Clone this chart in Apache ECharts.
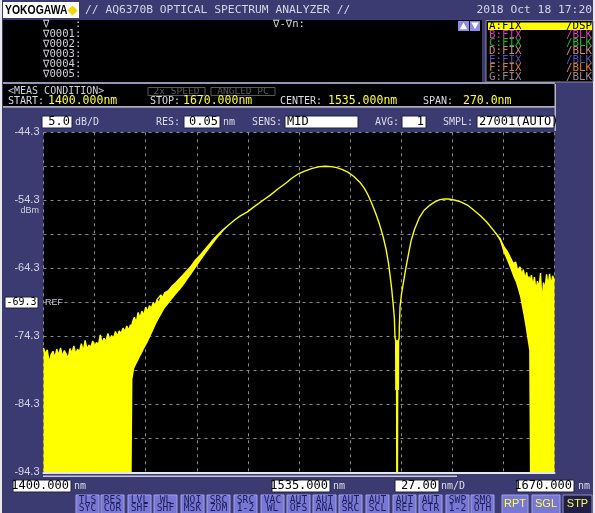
<!DOCTYPE html>
<html>
<head>
<meta charset="utf-8">
<script src="https://cdn.jsdelivr.net/npm/echarts@6/dist/echarts.min.js"></script>
<style>
html,body{margin:0;padding:0;background:#3b3b72;}
#c{width:595px;height:513px;}
</style>
</head>
<body>
<div id="c"></div>
<script>
const startNm = 1400.000, stopNm = 1670.000, centerNm = 1535.000, spanNm = 270.0, nmPerDiv = 27.00;
const topDbm = -44.3, dbPerDiv = 5.0, refDbm = -69.3;
const FLOOR = -94.3; // display floor (bottom of screen)
const yTickLabels = [-94.3, -84.3, -74.3, -64.3, -54.3, -44.3];

// left noise floor: trace fills down to the display floor
const noiseLeftNm = [1400,1401,1402,1403,1404,1405,1406,1407,1408,1409,1410,1411,1412,1413,1414,1415,1416,1417,1418,1419,1420,1421,1422,1423,1424,1425,1426,1427,1428,1429,1430,1431,1432,1433,1434,1435,1436,1437,1438,1439,1440,1441,1442,1443,1444,1445,1446,1446.6];
const noiseLeftTop = [-76.0,-76.9,-76.3,-78.2,-77.0,-76.5,-77.5,-76.2,-77.1,-76.0,-77.3,-76.4,-76.9,-77.6,-76.1,-76.8,-75.7,-76.9,-76.2,-76.6,-75.4,-76.5,-74.9,-76.2,-75.6,-75.9,-75.0,-75.8,-75.2,-75.6,-74.1,-75.3,-74.6,-75.1,-73.9,-74.8,-74.2,-74.6,-73.6,-74.3,-73.5,-73.9,-73.1,-73.6,-72.8,-73.4,-72.6,-72.9];

// left noisy band (top / bottom of the band)
const bandLeftNm = [1447,1448,1449,1450,1451,1452,1453,1454,1455,1456,1457,1458,1459,1460,1461,1462,1463,1464,1466,1468,1470,1472,1474,1476,1478,1480,1483,1486,1489,1492,1495];
const bandLeftTop = [-72.2,-71.5,-72.3,-70.8,-71.6,-70.6,-71.2,-70.0,-70.7,-69.8,-70.2,-69.3,-69.8,-68.9,-69.1,-68.2,-68.6,-67.9,-67.6,-66.9,-66.4,-65.8,-65.2,-64.6,-64.0,-63.2,-62.3,-61.3,-60.3,-59.4,-58.6];
const bandLeftBottom = [-80.6,-79.0,-78.4,-77.9,-77.3,-76.8,-76.2,-75.7,-75.2,-74.6,-74.0,-73.4,-72.8,-72.2,-71.7,-71.2,-70.7,-70.2,-69.5,-68.8,-68.1,-67.5,-66.8,-66.0,-65.2,-64.4,-63.2,-62.0,-60.9,-59.8,-58.8];

// clean signal, left lobe
const signalLeftNm = [1498,1501,1504,1507.7,1511,1516,1520,1524,1528,1531,1534.7,1538,1542,1546,1549,1552,1555,1558,1561,1564,1567,1569.5,1571.6,1573.5,1575.5,1577.5,1579.5,1581,1582.2,1583.1,1584.0,1584.8,1585.4,1585.7];
const signalLeftDbm = [-57.9,-57.2,-56.6,-56.0,-55.3,-54.3,-53.5,-52.6,-51.8,-51.1,-50.4,-50.0,-49.6,-49.35,-49.3,-49.35,-49.5,-49.8,-50.2,-50.8,-51.6,-52.5,-53.6,-54.8,-56.2,-57.8,-59.7,-61.5,-63.4,-65.3,-67.4,-69.7,-71.6,-74.3];

// notch
const notchNm = [1585.8,1586.2,1586.3,1587.4,1587.5,1587.9];
const notchTop = [-74.6,-75.0,-75.0,-75.0,-75.0,-74.6];
const notchBottom = [-82.2,-82.2,-94.3,-94.3,-82.2,-82.2];

// clean signal, right lobe
const signalRightNm = [1588.0,1588.4,1589.2,1590.1,1591,1591.9,1593,1594.2,1596,1598.5,1601,1604.2,1607,1609.5,1612,1614,1617,1620.1,1624,1627.1,1631,1634.2,1638];
const signalRightDbm = [-73.0,-69.9,-68.0,-66.5,-65.0,-63.6,-62.0,-60.3,-58.6,-56.9,-55.8,-55.0,-54.5,-54.2,-54.1,-54.1,-54.25,-54.5,-55.0,-55.7,-56.6,-57.5,-58.8];

// right noisy band
const bandRightNm = [1641.2,1643,1645,1647,1648.2,1649.5,1650.5,1651.8,1652.8,1653.5,1654.4,1655.3,1656.0,1656.6];
const bandRightTop = [-59.9,-61.0,-61.8,-62.9,-63.6,-63.4,-64.6,-64.1,-65.3,-64.5,-65.8,-64.9,-66.2,-65.5];
const bandRightBottom = [-60.3,-61.9,-63.2,-64.6,-65.5,-66.3,-67.2,-68.5,-70.0,-71.0,-72.4,-74.0,-75.3,-76.3];

// right noise floor
const noiseRightNm = [1657.0,1657.8,1658.6,1659.4,1660.2,1661.0,1661.8,1662.6,1663.4,1664.2,1665.0,1665.8,1666.6,1667.4,1668.2,1669.0,1670.0];
const noiseRightTop = [-66.5,-65.3,-67.0,-65.6,-67.6,-66.2,-67.3,-65.0,-69.5,-66.4,-67.4,-65.2,-67.0,-65.1,-66.8,-65.4,-66.1];

// screen texts
const markerRows = ['\u2207    :', '\u22070001:', '\u22070002:', '\u22070003:', '\u22070004:', '\u22070005:'];
const traceNames = ['A:FIX','B:FIX','C:FIX','D:FIX','E:FIX','F:FIX','G:FIX'];
const traceModes = ['/DSP','/BLK','/BLK','/BLK','/BLK','/BLK','/BLK'];
const traceColors = ['#000000','#d83cb8','#18c018','#d08484','#5454bc','#e08018','#a08496'];
const softKeys = [['TLS','SYC'],['RES','COR'],['LVL','SHF'],['WL','SHF'],['NOI','MSK'],['SRC','ZOM'],['SRC','1-2'],['VAC','WL'],['AUT','OFS'],['AUT','ANA'],['AUT','SRC'],['AUT','SCL'],['AUT','REF'],['AUT','CTR'],['SWP','1-2'],['SMO','OTH']];

// ---------------- build envelope ----------------
const env = [];
noiseLeftNm.forEach((w,i)=>env.push([w, noiseLeftTop[i], FLOOR]));
bandLeftNm.forEach((w,i)=>env.push([w, bandLeftTop[i], bandLeftBottom[i]]));
signalLeftNm.forEach((w,i)=>env.push([w, signalLeftDbm[i], signalLeftDbm[i]]));
notchNm.forEach((w,i)=>env.push([w, notchTop[i], notchBottom[i]]));
signalRightNm.forEach((w,i)=>env.push([w, signalRightDbm[i], signalRightDbm[i]]));
bandRightNm.forEach((w,i)=>env.push([w, bandRightTop[i], bandRightBottom[i]]));
noiseRightNm.forEach((w,i)=>env.push([w, noiseRightTop[i], FLOOR]));

// axis values are offsets from the screen origin (start wavelength, floor level)
const topLine = env.map(p => [p[0] - startNm, p[1] - FLOOR]);
// contiguous runs where the trace spreads into a band (noise)
const runs = [];
let cur = null;
for (let i = 0; i < env.length; i++) {
  const spread = env[i][1] !== env[i][2];
  if (spread) {
    if (!cur) { cur = [Math.max(0, i-1)]; }
    cur[1] = Math.min(env.length-1, i+1);
  } else if (cur && i > cur[1]) { runs.push(cur); cur = null; }
}
if (cur) runs.push(cur);
const runData = runs.map(r => [env[r[0]][0]-startNm, env[r[1]][0]-startNm, r[0], r[1]]);

// ---------------- layout helpers ----------------
const MONO = "'DejaVu Sans Mono', monospace";
const NAVY = '#3b3b72';
const G = [];
function rect(x,y,w,h,fill,stroke,lw,z){ G.push({type:'rect', z: z||1, silent:true, shape:{x,y,width:w,height:h}, style:{fill: fill||'none', stroke: stroke||null, lineWidth: lw||0}}); }
function txt(x,y,text,fill,size,align,family,weight,z,sx){ G.push({type:'text', z: z||2, silent:true, x, y, scaleX: sx||1, style:{text, fill, font:(weight||'normal')+' '+size+'px '+(family||MONO), textAlign: align||'left', textVerticalAlign:'middle'}}); }
function poly(points, fill, z){ G.push({type:'polygon', z: z||2, silent:true, shape:{points}, style:{fill}}); }

// outer light frame
rect(0,0,2,513,'#e8e8ee');
rect(593,0,2,513,'#e8e8ee');

// title bar
rect(3,2,76,16,'#ffffff');
txt(5,10.5,'YOKOGAWA','#000000',13,'left',"'Liberation Sans', Arial",'bold',2,0.8);
poly([[67.5,10.5],[72.5,5.5],[77.5,10.5],[72.5,15.5]],'#f2d400');
txt(85,10.5,'// AQ6370B OPTICAL SPECTRUM ANALYZER //','#d4d4e6',11.3);
txt(592,10.5,'2018 Oct 18 17:20','#d4d4e6',11.3,'right');

// marker area
rect(3,20,479,62,'#000000');
markerRows.forEach((s,i)=>txt(43, 24.5 + i*10, s, '#cfcfdc', 10.6));
txt(273,24.5,'\u2207-\u2207n:','#cfcfdc',10.6);
rect(458,21,11,10,'#8c8ce6');
poly([[459.8,29.2],[463.5,22.6],[467.2,29.2]],'#ffffff',3);
rect(470,21,10,10,'#8c8ce6');
poly([[471.4,22.6],[478.6,22.6],[475,29.2]],'#ffffff',3);

// trace list
rect(486,20.5,107,61.5,'#000000','#8a8aa0',1);
rect(488,22.5,104,7.6,'#ffff00');
traceNames.forEach((s,i)=>{
  const y = 26.3 + i*8.45;
  txt(489,y,s,traceColors[i],10.8);
  txt(592,y,traceModes[i],traceColors[i],10.8,'right');
});

// separator and meas condition block
rect(3,82.3,552,1.5,'#b4b4cc');
rect(3,84,552,22.5,'#000000');
rect(3,106.3,552,1.3,'#e0e0e8');
rect(554.5,84,1.5,47,'#b4b4cc');
txt(8,91,'<MEAS CONDITION>','#cfcfdc',10);
rect(148,87.5,57,8,null,'#5a5a5a',1);
txt(176.5,91.5,'2x SPEED','#5a5a5a',9.5,'center');
rect(211,87.5,64,8,null,'#5a5a5a',1);
txt(243,91.5,'ANGLED PC','#5a5a5a',9.5,'center');
txt(8,101.5,'START:','#dcdce6',10);
txt(48,101,startNm.toFixed(3)+'nm','#ffff33',11.5);
txt(150,101.5,'STOP:','#dcdce6',10);
txt(183,101,stopNm.toFixed(3)+'nm','#ffff33',11.5);
txt(280,101.5,'CENTER:','#dcdce6',10);
txt(328,101,centerNm.toFixed(3)+'nm','#ffff33',11.5);
txt(423,101.5,'SPAN:','#dcdce6',10);
txt(463,101,spanNm.toFixed(1)+'nm','#ffff33',11.5);

// settings row
function box(x,w,text,align){ rect(x,116,w,12,'#ffffff','#202040',1); txt(align==='left'? x+2 : x+w-2, 122.3, text, '#000000', 12, align||'right'); }
box(42,30,dbPerDiv.toFixed(1));
txt(75,122,'dB/D','#dcdce6',10);
txt(156,122,'RES:','#dcdce6',10);
box(184,36,'0.05');
txt(223,122,'nm','#dcdce6',10);
txt(252,122,'SENS:','#dcdce6',10);
box(285,73,'MID','left');
txt(375,122,'AVG:','#dcdce6',10);
box(402,24,'1');
txt(443,122,'SMPL:','#dcdce6',10);
box(477,77,'27001(AUTO)','left');

// y axis unit, reference level
txt(39,211,'dBm','#cfcfdc',9,'right',"'Liberation Sans', Arial");
rect(5,297,33,11,'#ffffff','#202040',1,3);
txt(36.5,302.8,refDbm.toFixed(1),'#000000',10,'right',MONO,'normal',4);
txt(45,303,'REF','#c8c8d2',9,'left',"'Liberation Sans', Arial",'normal',30);

// bottom scroll bar
rect(43,475.5,414,1.6,'#c8c8dc',null,0,30);

// bottom wavelength labels
function wbox(x,w,text){ rect(x,480,w,12,'#ffffff','#202040',1); txt(x+w-2,486.3,text,'#000000',12,'right'); }
wbox(13,58,startNm.toFixed(3)); txt(74,486.5,'nm','#dcdce6',10);
wbox(272,58,centerNm.toFixed(3)); txt(333,486.5,'nm','#dcdce6',10);
wbox(395,44,nmPerDiv.toFixed(2)); txt(441,486.5,'nm/D','#dcdce6',10);
wbox(517,57,stopNm.toFixed(3)); txt(578,486.5,'nm','#dcdce6',10);

// soft keys
const keyX = [76,101,128,154,181,207,234,261,287,313,339,366,393,419,446,471];
softKeys.forEach((k,i)=>{
  const x = keyX[i];
  rect(x,495,23,19,'#7878d4','#a0a0ec',1);
  txt(x+11.5,500.3,k[0],'#1c1c58',9.6,'center');
  txt(x+11.5,508.3,k[1],'#1c1c58',9.6,'center');
});
rect(502,495,26,19,'#7878d4','#a0a0ec',1);
txt(515,504,'RPT','#ffff40',11,'center',"'Liberation Sans', Arial");
rect(532,495,28,19,'#7878d4','#a0a0ec',1);
txt(546,504,'SGL','#ffff40',11,'center',"'Liberation Sans', Arial");
rect(563,495,29,19,'#1e1e46','#9090c0',1);
txt(577.5,504,'STP','#ffff40',11,'center',"'Liberation Sans', Arial");

// ---------------- chart ----------------
const chart = echarts.init(document.getElementById('c'), null, {width:595, height:513});
chart.setOption({
  animation: false,
  backgroundColor: NAVY,
  grid: {left:43.5, top:132.3, width:511, height:340, show:true, backgroundColor:'#000000', borderWidth:0},
  xAxis: {
    type:'value', min:0, max:stopNm-startNm, interval:nmPerDiv,
    axisLabel:{show:false}, axisTick:{show:false},
    axisLine:{show:true, lineStyle:{color:'#e6e6f0', width:2}},
    splitLine:{show:true, lineStyle:{color:'#8a8a8a', width:1, type:[3,4]}}
  },
  yAxis: {
    type:'value', min:0, max:topDbm-FLOOR, interval:dbPerDiv,
    axisLine:{show:false}, axisTick:{show:false},
    axisLabel:{
      color:'#d6d6e0', fontSize:11, fontFamily:"'Liberation Sans', Arial", margin:4,
      formatter: v => { const d = +(v + FLOOR).toFixed(1); return yTickLabels.some(t=>Math.abs(t-d)<0.01) ? d.toFixed(1) : ''; }
    },
    splitLine:{show:true, lineStyle:{color:'#8a8a8a', width:1, type:[3,4]}}
  },
  series: [
    {type:'custom', name:'Trace A noise', silent:true, clip:true, z:2,
     encode:{x:[0,1]},
     data: runData,
     renderItem: (params, api) => {
       const i0 = api.value(2), i1 = api.value(3);
       const pts = [];
       for (let i = i0; i <= i1; i++) pts.push(api.coord([env[i][0]-startNm, env[i][1]-FLOOR]));
       for (let i = i1; i >= i0; i--) pts.push(api.coord([env[i][0]-startNm, env[i][2]-FLOOR]));
       return {type:'polygon', shape:{points:pts}, style:{fill:'#ffff00'}};
     }},
    {type:'line', name:'Trace A', data: topLine, symbol:'none', silent:true, z:3, clip:true,
     lineStyle:{color:'#ffff00', width:1.4}}
  ],
  graphic: {elements: G}
});
</script>
</body>
</html>
